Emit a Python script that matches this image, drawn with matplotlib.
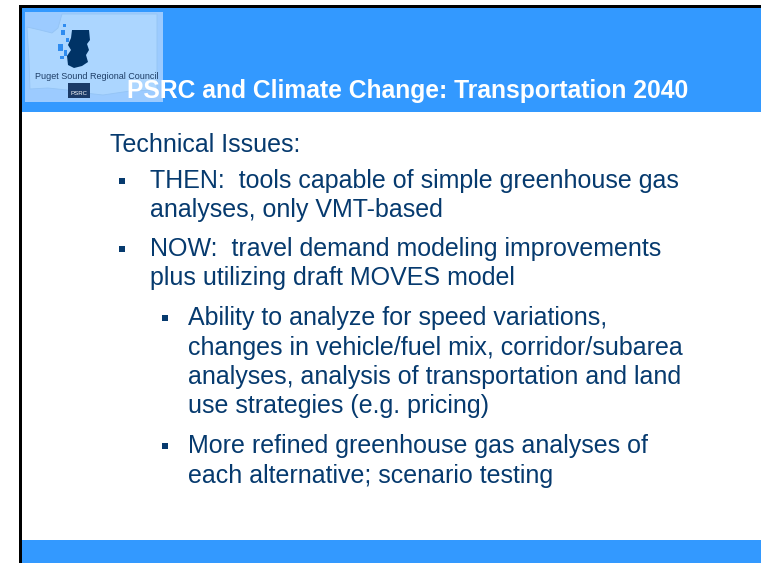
import matplotlib
matplotlib.use("Agg")
import matplotlib.pyplot as plt
from matplotlib.patches import Rectangle, Polygon
from matplotlib import font_manager

# --- Folieninhalt ---
title = "PSRC and Climate Change: Transportation 2040"
heading = "Technical Issues:"
level1 = [
    ["THEN:  tools capable of simple greenhouse gas", "analyses, only VMT-based"],
    ["NOW:  travel demand modeling improvements", "plus utilizing draft MOVES model"],
]
level2 = [
    ["Ability to analyze for speed variations,",
     "changes in vehicle/fuel mix, corridor/subarea",
     "analyses, analysis of transportation and land",
     "use strategies (e.g. pricing)"],
    ["More refined greenhouse gas analyses of",
     "each alternative; scenario testing"],
]
logo_text = "Puget Sound Regional Council"
logo_badge = "PSRC"

BLUE = "#3399ff"
NAVY = "#063a6e"
W, H = 761, 563

fams = {f.name for f in font_manager.fontManager.ttflist}
body_font = "Liberation Sans" if "Liberation Sans" in fams else "DejaVu Sans"
narrow_font = "Liberation Sans Narrow" if "Liberation Sans Narrow" in fams else body_font

fig = plt.figure(figsize=(W / 100, H / 100), dpi=100)
ax = fig.add_axes([0, 0, 1, 1])
ax.set_xlim(0, W); ax.set_ylim(H, 0); ax.axis("off")


def fit(t, width):
    # Schriftgroesse so skalieren, dass der Text die Zielbreite hat
    fig.canvas.draw()
    bb = t.get_window_extent()
    t.set_fontsize(t.get_fontsize() * width / bb.width)


# Rahmen, Kopf- und Fussbalken
ax.add_patch(Rectangle((19, 5), W - 19, 2.5, color="black", lw=0))
ax.add_patch(Rectangle((19, 5), 3, H - 5, color="black", lw=0))
ax.add_patch(Rectangle((22, 7.5), W - 22, 104.5, color=BLUE, lw=0))
ax.add_patch(Rectangle((22, 540), W - 22, 23, color=BLUE, lw=0))

# Logo (grob nachgezeichnet)
ax.add_patch(Rectangle((25, 12), 138, 90, color="#9ccbff", lw=0))
state = [(27, 27), (40, 30), (52, 33), (58, 28), (62, 14), (157, 14), (157, 90),
         (130, 91), (103, 95), (85, 93), (67, 90), (48, 88), (30, 89), (29, 60)]
ax.add_patch(Polygon(state, closed=True, fc="#acd6ff", ec="#94c4f5", lw=0.6))
county = [(72, 30), (89, 30), (90, 40), (87, 44), (89, 50), (86, 55), (88, 62),
          (82, 66), (74, 68), (68, 65), (67, 56), (71, 50), (68, 45), (71, 38)]
ax.add_patch(Polygon(county, closed=True, fc="#003366", lw=0))
for (x, y, w, h) in [(63, 24, 3, 3), (61, 30, 4, 5), (58, 44, 5, 7), (64, 50, 3, 6),
                     (60, 56, 4, 3), (66, 38, 3, 4)]:
    ax.add_patch(Rectangle((x, y), w, h, color="#2f8cf0", lw=0))
lt = ax.text(35, 79, logo_text, family=narrow_font, fontsize=7, color="#1d3d66",
             va="baseline", ha="left")
fit(lt, 122)
ax.add_patch(Rectangle((68, 83), 22, 15, color="#1a3a68", lw=0))
bt = ax.text(79, 95, logo_badge, family=narrow_font, fontsize=6, color="white",
             ha="center", va="baseline")
fit(bt, 17)

# Titel
tt = ax.text(127, 98, title, family=body_font, weight="bold", fontsize=16,
             color="white", va="baseline", ha="left")
fit(tt, 561)

# Textkoerper
fs = 18
y = 152.5
ax.text(110, y, heading, family=body_font, fontsize=fs, color=NAVY, va="baseline")
y += 35.5
for para in level1:
    ax.add_patch(Rectangle((119, y - 10.5), 6, 6, color=NAVY, lw=0))
    for ln in para:
        ax.text(150, y, ln, family=body_font, fontsize=fs, color=NAVY, va="baseline")
        y += 29.5
    y += 9
y += 1
for para in level2:
    ax.add_patch(Rectangle((161.5, y - 10.5), 6, 6, color=NAVY, lw=0))
    for ln in para:
        ax.text(188, y, ln, family=body_font, fontsize=fs, color=NAVY, va="baseline")
        y += 29.5
    y += 10

fig.savefig("out.png", dpi=100)
